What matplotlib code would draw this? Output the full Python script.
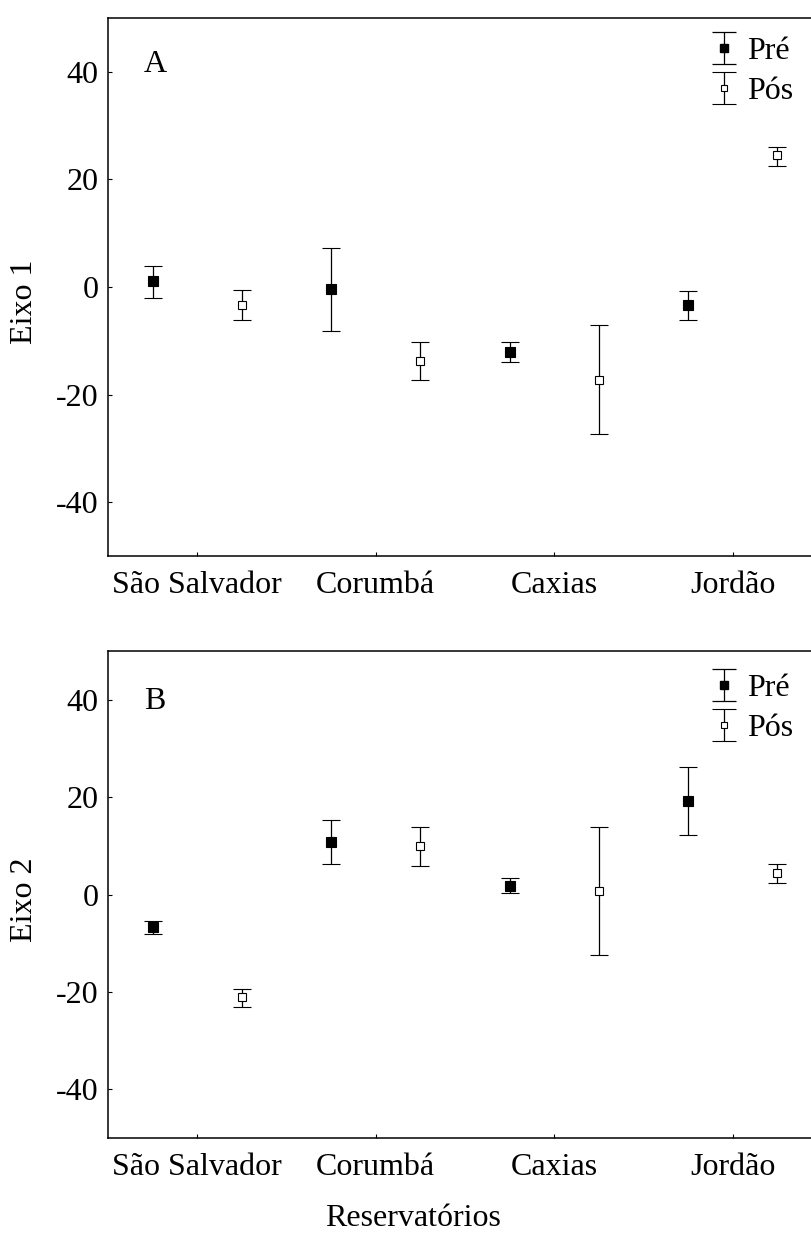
import matplotlib
matplotlib.use("Agg")
import matplotlib.pyplot as plt
import numpy as np

plt.rcParams['font.family'] = ['Liberation Serif', 'DejaVu Serif']
plt.rcParams['font.size'] = 23

categories = ["São Salvador", "Corumbá", "Caxias", "Jordão"]
series_labels = ["Pré", "Pós"]

# Panel A (Eixo 1)
pre_mean_A = [1.2, -0.3, -12.0, -3.3]
pre_low_A = [-2.0, -8.2, -14.0, -6.2]
pre_high_A = [3.9, 7.2, -10.3, -0.7]
pos_mean_A = [-3.3, -13.7, -17.2, 24.5]
pos_low_A = [-6.1, -17.3, -27.3, 22.4]
pos_high_A = [-0.6, -10.3, -7.0, 26.0]

# Panel B (Eixo 2)
pre_mean_B = [-6.6, 10.8, 1.8, 19.3]
pre_low_B = [-8.1, 6.2, 0.4, 12.2]
pre_high_B = [-5.5, 15.2, 3.4, 26.2]
pos_mean_B = [-21.0, 9.9, 0.7, 4.5]
pos_low_B = [-23.0, 5.9, -12.5, 2.4]
pos_high_B = [-19.4, 13.8, 13.8, 6.2]

yticks = [-40, -20, 0, 20, 40]

fig = plt.figure(figsize=(8.11, 12.33), dpi=100)
W, H = 811, 1233

def add_ax(left, top, right, bottom):
    return fig.add_axes([left / W, 1 - bottom / H, (right - left) / W, (bottom - top) / H])

axA = add_ax(108, 18, 822, 556)
axB = add_ax(108, 651, 822, 1138)

x = np.arange(len(categories))
off = 0.25

def panel(ax, pm, pl, ph, qm, ql, qh, letter, legend_top):
    pm, pl, ph = map(np.array, (pm, pl, ph))
    qm, ql, qh = map(np.array, (qm, ql, qh))
    ekw = dict(ecolor='black', elinewidth=0.9, capsize=6.3, capthick=0.9, linestyle='none')
    ax.errorbar(x - off, pm, yerr=[pm - pl, ph - pm], marker='s', ms=6.8,
                mfc='black', mec='black', mew=0.8, **ekw)
    ax.errorbar(x + off, qm, yerr=[qm - ql, qh - qm], marker='s', ms=6.0,
                mfc='white', mec='black', mew=0.8, **ekw)
    # legend proxies with wider caps
    h1 = ax.errorbar([np.nan], [np.nan], yerr=[[np.nan], [np.nan]], marker='s', ms=5.8,
                     mfc='black', mec='black', ecolor='black', elinewidth=0.9,
                     capsize=8.8, capthick=0.9, linestyle='none')
    h2 = ax.errorbar([np.nan], [np.nan], yerr=[[np.nan], [np.nan]], marker='s', ms=5.0,
                     mfc='white', mec='black', mew=0.8, ecolor='black', elinewidth=0.9,
                     capsize=8.8, capthick=0.9, linestyle='none')
    ax.legend([h1, h2], series_labels, loc='upper left',
              bbox_to_anchor=(0.841, legend_top), frameon=False, borderpad=0,
              borderaxespad=0, handlelength=1.0, handletextpad=0.2,
              labelspacing=0.33, fontsize=23)
    ax.set_xlim(-0.5, 3.5)
    ax.set_ylim(-50, 50)
    ax.set_xticks(x)
    ax.set_xticklabels(categories)
    ax.set_yticks(yticks)
    ax.set_yticklabels([str(v) for v in yticks])
    ax.tick_params(direction='in', length=3, width=0.8, pad=7)
    ax.tick_params(axis='x', pad=11)
    for s in ax.spines.values():
        s.set_linewidth(1.1)
    ax.text(0.066, 0.914 if letter == 'A' else 0.897, letter, transform=ax.transAxes,
            ha='center', va='center', fontsize=23)

panel(axA, pre_mean_A, pre_low_A, pre_high_A, pos_mean_A, pos_low_A, pos_high_A, 'A', 0.965)
panel(axB, pre_mean_B, pre_low_B, pre_high_B, pos_mean_B, pos_low_B, pos_high_B, 'B', 0.953)

fig.text(25 / W, 1 - 302 / H, "Eixo 1", rotation=90, ha='center', va='center', fontsize=23)
fig.text(25 / W, 1 - 900 / H, "Eixo 2", rotation=90, ha='center', va='center', fontsize=23)
fig.text(413 / W, 1 - 1218 / H, "Reservatórios", ha='center', va='center', fontsize=23)

fig.savefig("out.png", dpi=100)
